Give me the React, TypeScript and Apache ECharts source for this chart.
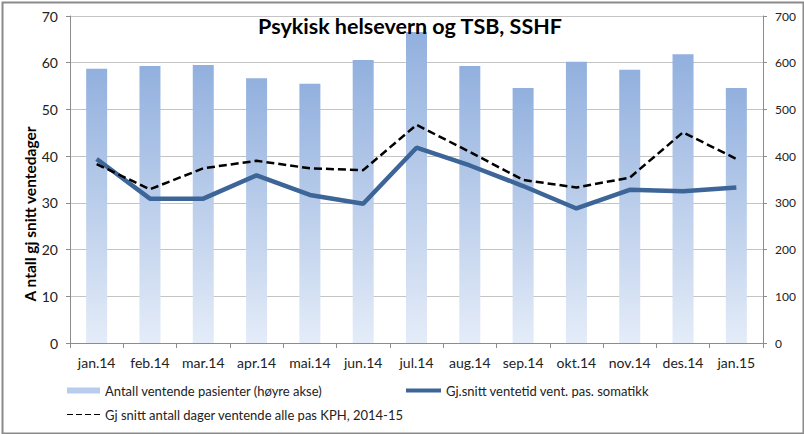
import React, { useEffect, useRef } from "react";
import * as echarts from "echarts";

const categories = ["jan.14", "feb.14", "mar.14", "apr.14", "mai.14", "jun.14", "jul.14", "aug.14", "sep.14", "okt.14", "nov.14", "des.14", "jan.15"];
const ventende = [587, 593, 595, 567, 555, 606, 666, 593, 546, 602, 585, 618, 546];
const somatikk = [39.4, 30.9, 30.9, 35.9, 31.7, 29.8, 41.8, 38.0, 33.6, 28.8, 32.8, 32.5, 33.3];
const kph = [38.3, 32.9, 37.4, 39.0, 37.4, 37.0, 46.7, 40.9, 34.9, 33.3, 35.4, 45.1, 39.4];

const seriesNames = [
  "Antall ventende pasienter (høyre akse)",
  "Gj.snitt ventetid vent. pas. somatikk",
  "Gj snitt antall dager ventende alle pas KPH, 2014-15",
];
const titleText = "Psykisk helsevern og TSB, SSHF";
const leftAxisTitle = "A ntall gj snitt ventedager";

const FONT = "Lato, 'Open Sans', sans-serif";

export default function App() {
  const ref = useRef<HTMLDivElement>(null);
  useEffect(() => {
    if (!ref.current) return;
    const chart = echarts.init(ref.current, null, { renderer: "svg" });
    const axisLabel = { color: "#222", fontFamily: FONT, fontSize: 14 };
    const legendText = { color: "#222", fontFamily: FONT, fontSize: 13 };
    chart.setOption({
      animation: false,
      backgroundColor: "#fff",
      title: {
        text: titleText,
        left: 405,
        top: 10,
        textAlign: "center",
        textStyle: { fontFamily: FONT, fontWeight: "bold", fontSize: 21.5, color: "#000" },
      },
      grid: { left: 70, right: 41, top: 16, bottom: 91 },
      graphic: [
        {
          type: "rect",
          left: 0,
          top: 0,
          shape: { x: 1, y: 1, width: 801, height: 431 },
          style: { fill: "none", stroke: "#8a8a8a", lineWidth: 2 },
          silent: true,
        },
        {
          type: "text",
          x: 30,
          y: 214,
          rotation: Math.PI / 2,
          style: {
            text: leftAxisTitle,
            fontFamily: FONT,
            fontWeight: "bold",
            fontSize: 15.5,
            fill: "#000",
            align: "center",
            verticalAlign: "middle",
          },
          silent: true,
        },
      ],
      legend: [
        {
          data: [{ name: seriesNames[0], icon: "rect", itemStyle: { color: "#b8cced" } }],
          left: 62,
          top: 379,
          itemWidth: 33,
          itemHeight: 6,
          textStyle: legendText,
          selectedMode: false,
        },
        {
          data: [{ name: seriesNames[1], icon: "rect", itemStyle: { color: "#3d6597" } }],
          left: 401,
          top: 379,
          itemWidth: 35,
          itemHeight: 4,
          textStyle: legendText,
          selectedMode: false,
        },
        {
          data: [
            {
              name: seriesNames[2],
              icon: "path://M0,0h6v1h-6z M9,0h6v1h-6z M18,0h6v1h-6z M27,0h6v1h-6z",
              itemStyle: { color: "#000" },
            },
          ],
          left: 62,
          top: 403,
          itemWidth: 33,
          itemHeight: 3,
          textStyle: legendText,
          selectedMode: false,
        },
      ],
      xAxis: {
        type: "category",
        data: categories,
        axisLine: { lineStyle: { color: "#8c8c8c" } },
        axisTick: { show: true, length: 5, lineStyle: { color: "#8c8c8c" } },
        axisLabel: { ...axisLabel, margin: 12, interval: 0 },
      },
      yAxis: [
        {
          type: "value",
          min: 0,
          max: 70,
          interval: 10,
          axisLine: { show: true, lineStyle: { color: "#8c8c8c" } },
          axisTick: { show: true, length: 4, lineStyle: { color: "#8c8c8c" } },
          axisLabel: { ...axisLabel, margin: 12 },
          splitLine: { lineStyle: { color: "#c4c4c4" } },
        },
        {
          type: "value",
          min: 0,
          max: 700,
          interval: 100,
          position: "right",
          axisLine: { show: true, lineStyle: { color: "#8c8c8c" } },
          axisTick: { show: true, length: 4, lineStyle: { color: "#8c8c8c" } },
          axisLabel: { ...axisLabel, fontSize: 12, margin: 12 },
          splitLine: { show: false },
        },
      ],
      series: [
        {
          name: seriesNames[0],
          type: "bar",
          yAxisIndex: 1,
          data: ventende,
          barWidth: 21,
          itemStyle: {
            color: new echarts.graphic.LinearGradient(0, 0, 0, 1, [
              { offset: 0, color: "#92b0de" },
              { offset: 1, color: "#e4ecf8" },
            ]),
          },
        },
        {
          name: seriesNames[1],
          type: "line",
          yAxisIndex: 0,
          data: somatikk,
          symbol: "none",
          color: "#3d6597",
          lineStyle: { color: "#3d6597", width: 4.5 },
          z: 3,
        },
        {
          name: seriesNames[2],
          type: "line",
          yAxisIndex: 0,
          data: kph,
          symbol: "none",
          color: "#000",
          lineStyle: { color: "#000", width: 2.5, type: [8, 4] },
          z: 4,
        },
      ],
    });
    return () => chart.dispose();
  }, []);
  return (
    <div
      ref={ref}
      style={{ position: "fixed", left: 0, top: 0, width: 804, height: 434 }}
    />
  );
}
